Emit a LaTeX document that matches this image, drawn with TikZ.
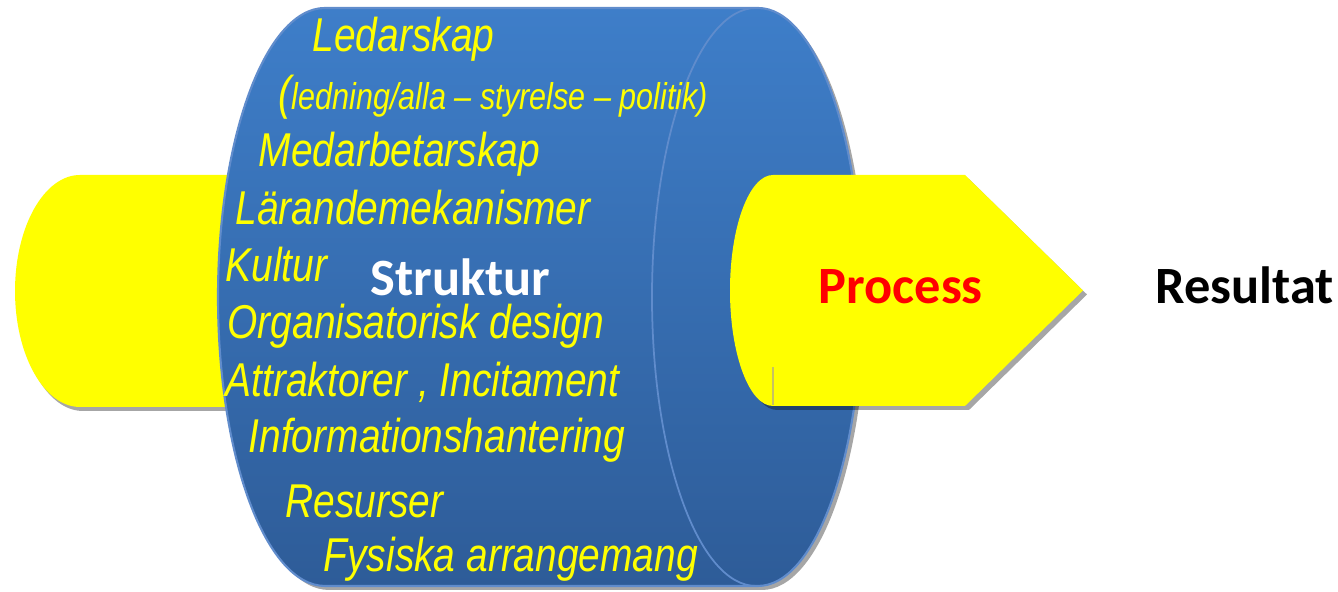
\documentclass[tikz,border=0pt]{standalone}
\usepackage{fontspec}
\newfontfamily\itemfont{Liberation Sans}[FakeStretch=0.82]
\newfontfamily\titlefont{Carlito}
\definecolor{drumtop}{RGB}{62,126,201}
\definecolor{drumbot}{RGB}{46,92,152}
\definecolor{drumedge}{RGB}{96,140,204}
\definecolor{pipeyellow}{RGB}{255,255,0}
\begin{document}
\begin{tikzpicture}[x=0.01cm,y=0.01cm,
		item/.style={anchor=base west,inner sep=0pt,text=pipeyellow,font=\itemfont\itshape\fontsize{13.5}{16}\selectfont},
		title/.style={anchor=base west,inner sep=0pt,font=\titlefont\bfseries\fontsize{14.9}{18}\selectfont},
		shade/.style={fill=black,opacity=0.35}]
			\useasboundingbox (0,0) rectangle (1338,592);
			\fill[shade] (243,413) -- (83,413) arc[start angle=90,end angle=270,x radius=65,y radius=116] -- (243,181) -- cycle;
			\fill[pipeyellow] (240,417) -- (80,417) arc[start angle=90,end angle=270,x radius=65,y radius=116] -- (240,185) -- cycle;
			\fill[shade] (329,580) -- (762,580) arc[start angle=90,end angle=-90,x radius=104,y radius=289] -- (329,2) arc[start angle=270,end angle=90,x radius=107,y radius=289] -- cycle;
			\fill[top color=drumtop,bottom color=drumbot,draw=drumedge,line width=0.6pt] (325,584) -- (758,584) arc[start angle=90,end angle=-90,x radius=104,y radius=289] -- (325,6) arc[start angle=270,end angle=90,x radius=107,y radius=289] -- cycle;
			\draw[drumedge,line width=0.5pt] (756,584) arc[start angle=90,end angle=270,x radius=104,y radius=289];
			\fill[shade] (969,413) -- (1087,297.5) -- (969,182) -- (777,182) arc[start angle=270,end angle=90,x radius=43,y radius=115.5] -- cycle;
			\fill[pipeyellow] (965,417) -- (1083,301.5) -- (965,186) -- (773,186) arc[start angle=270,end angle=90,x radius=43,y radius=115.5] -- cycle;
			\draw[olive!50,line width=0.4pt] (773,187) -- (773,225);
			\node[item] (ledarskap) at (312,540) {Ledarskap};
			\node[item] (ledning) at (278,482) {(\fontsize{10.6}{12}\selectfont ledning/alla – styrelse – politik)};
			\node[item] (medarb) at (258,425) {Medarbetarskap};
			\node[item] (larande) at (235,367) {Lärandemekanismer};
			\node[item] (kultur) at (225,310) {Kultur};
			\node[item] (organis) at (227,253) {Organisatorisk design};
			\node[item] (attrakt) at (225,195) {Attraktorer , Incitament};
			\node[item] (inform) at (248,139) {Informationshantering};
			\node[item] (resurser) at (285,74) {Resurser};
			\node[item] (fysiska) at (323,20) {Fysiska arrangemang};
			\node[title,text=white] (struktur) at (370,296) {Struktur};
			\node[title,text=red] (process) at (818,288) {Process};
			\node[title,text=black] (resultat) at (1155,288) {Resultat};
		\end{tikzpicture}
\end{document}
